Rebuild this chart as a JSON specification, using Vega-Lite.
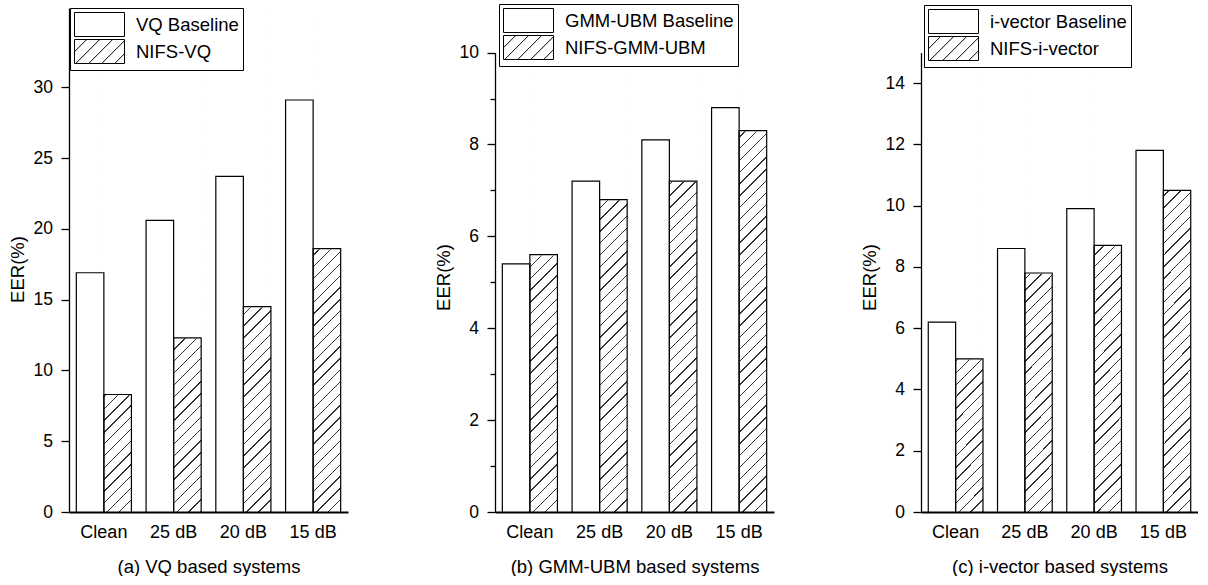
{
  "$schema": "https://vega.github.io/schema/vega-lite/v6.json",
  "background": "white",
  "padding": {"left": 8, "top": 3, "right": 0, "bottom": 0},
  "spacing": 86,
  "resolve": {
    "scale": {"x": "independent", "xOffset": "independent", "y": "independent", "shape": "independent"},
    "legend": {"shape": "independent"},
    "axis": {"x": "independent", "y": "independent"}
  },
  "params": [
    {"name": "hatch", "value": {"gradient": "linear", "x1": 0, "y1": 0, "x2": 0.05748, "y2": 1.05152, "stops": [
      {"offset": 0, "color": "#fff"},
      {"offset": 0.019556, "color": "#fff"}, {"offset": 0.019556, "color": "#333"}, {"offset": 0.022222, "color": "#333"}, {"offset": 0.022222, "color": "#fff"},
      {"offset": 0.041778, "color": "#fff"}, {"offset": 0.041778, "color": "#333"}, {"offset": 0.044444, "color": "#333"}, {"offset": 0.044444, "color": "#fff"},
      {"offset": 0.064, "color": "#fff"}, {"offset": 0.064, "color": "#333"}, {"offset": 0.066667, "color": "#333"}, {"offset": 0.066667, "color": "#fff"},
      {"offset": 0.086222, "color": "#fff"}, {"offset": 0.086222, "color": "#333"}, {"offset": 0.088889, "color": "#333"}, {"offset": 0.088889, "color": "#fff"},
      {"offset": 0.108444, "color": "#fff"}, {"offset": 0.108444, "color": "#333"}, {"offset": 0.111111, "color": "#333"}, {"offset": 0.111111, "color": "#fff"},
      {"offset": 0.130667, "color": "#fff"}, {"offset": 0.130667, "color": "#333"}, {"offset": 0.133333, "color": "#333"}, {"offset": 0.133333, "color": "#fff"},
      {"offset": 0.152889, "color": "#fff"}, {"offset": 0.152889, "color": "#333"}, {"offset": 0.155556, "color": "#333"}, {"offset": 0.155556, "color": "#fff"},
      {"offset": 0.175111, "color": "#fff"}, {"offset": 0.175111, "color": "#333"}, {"offset": 0.177778, "color": "#333"}, {"offset": 0.177778, "color": "#fff"},
      {"offset": 0.197333, "color": "#fff"}, {"offset": 0.197333, "color": "#333"}, {"offset": 0.2, "color": "#333"}, {"offset": 0.2, "color": "#fff"},
      {"offset": 0.219556, "color": "#fff"}, {"offset": 0.219556, "color": "#333"}, {"offset": 0.222222, "color": "#333"}, {"offset": 0.222222, "color": "#fff"},
      {"offset": 0.241778, "color": "#fff"}, {"offset": 0.241778, "color": "#333"}, {"offset": 0.244444, "color": "#333"}, {"offset": 0.244444, "color": "#fff"},
      {"offset": 0.264, "color": "#fff"}, {"offset": 0.264, "color": "#333"}, {"offset": 0.266667, "color": "#333"}, {"offset": 0.266667, "color": "#fff"},
      {"offset": 0.286222, "color": "#fff"}, {"offset": 0.286222, "color": "#333"}, {"offset": 0.288889, "color": "#333"}, {"offset": 0.288889, "color": "#fff"},
      {"offset": 0.308444, "color": "#fff"}, {"offset": 0.308444, "color": "#333"}, {"offset": 0.311111, "color": "#333"}, {"offset": 0.311111, "color": "#fff"},
      {"offset": 0.330667, "color": "#fff"}, {"offset": 0.330667, "color": "#333"}, {"offset": 0.333333, "color": "#333"}, {"offset": 0.333333, "color": "#fff"},
      {"offset": 0.352889, "color": "#fff"}, {"offset": 0.352889, "color": "#333"}, {"offset": 0.355556, "color": "#333"}, {"offset": 0.355556, "color": "#fff"},
      {"offset": 0.375111, "color": "#fff"}, {"offset": 0.375111, "color": "#333"}, {"offset": 0.377778, "color": "#333"}, {"offset": 0.377778, "color": "#fff"},
      {"offset": 0.397333, "color": "#fff"}, {"offset": 0.397333, "color": "#333"}, {"offset": 0.4, "color": "#333"}, {"offset": 0.4, "color": "#fff"},
      {"offset": 0.419556, "color": "#fff"}, {"offset": 0.419556, "color": "#333"}, {"offset": 0.422222, "color": "#333"}, {"offset": 0.422222, "color": "#fff"},
      {"offset": 0.441778, "color": "#fff"}, {"offset": 0.441778, "color": "#333"}, {"offset": 0.444444, "color": "#333"}, {"offset": 0.444444, "color": "#fff"},
      {"offset": 0.464, "color": "#fff"}, {"offset": 0.464, "color": "#333"}, {"offset": 0.466667, "color": "#333"}, {"offset": 0.466667, "color": "#fff"},
      {"offset": 0.486222, "color": "#fff"}, {"offset": 0.486222, "color": "#333"}, {"offset": 0.488889, "color": "#333"}, {"offset": 0.488889, "color": "#fff"},
      {"offset": 0.508444, "color": "#fff"}, {"offset": 0.508444, "color": "#333"}, {"offset": 0.511111, "color": "#333"}, {"offset": 0.511111, "color": "#fff"},
      {"offset": 0.530667, "color": "#fff"}, {"offset": 0.530667, "color": "#333"}, {"offset": 0.533333, "color": "#333"}, {"offset": 0.533333, "color": "#fff"},
      {"offset": 0.552889, "color": "#fff"}, {"offset": 0.552889, "color": "#333"}, {"offset": 0.555556, "color": "#333"}, {"offset": 0.555556, "color": "#fff"},
      {"offset": 0.575111, "color": "#fff"}, {"offset": 0.575111, "color": "#333"}, {"offset": 0.577778, "color": "#333"}, {"offset": 0.577778, "color": "#fff"},
      {"offset": 0.597333, "color": "#fff"}, {"offset": 0.597333, "color": "#333"}, {"offset": 0.6, "color": "#333"}, {"offset": 0.6, "color": "#fff"},
      {"offset": 0.619556, "color": "#fff"}, {"offset": 0.619556, "color": "#333"}, {"offset": 0.622222, "color": "#333"}, {"offset": 0.622222, "color": "#fff"},
      {"offset": 0.641778, "color": "#fff"}, {"offset": 0.641778, "color": "#333"}, {"offset": 0.644444, "color": "#333"}, {"offset": 0.644444, "color": "#fff"},
      {"offset": 0.664, "color": "#fff"}, {"offset": 0.664, "color": "#333"}, {"offset": 0.666667, "color": "#333"}, {"offset": 0.666667, "color": "#fff"},
      {"offset": 0.686222, "color": "#fff"}, {"offset": 0.686222, "color": "#333"}, {"offset": 0.688889, "color": "#333"}, {"offset": 0.688889, "color": "#fff"},
      {"offset": 0.708444, "color": "#fff"}, {"offset": 0.708444, "color": "#333"}, {"offset": 0.711111, "color": "#333"}, {"offset": 0.711111, "color": "#fff"},
      {"offset": 0.730667, "color": "#fff"}, {"offset": 0.730667, "color": "#333"}, {"offset": 0.733333, "color": "#333"}, {"offset": 0.733333, "color": "#fff"},
      {"offset": 0.752889, "color": "#fff"}, {"offset": 0.752889, "color": "#333"}, {"offset": 0.755556, "color": "#333"}, {"offset": 0.755556, "color": "#fff"},
      {"offset": 0.775111, "color": "#fff"}, {"offset": 0.775111, "color": "#333"}, {"offset": 0.777778, "color": "#333"}, {"offset": 0.777778, "color": "#fff"},
      {"offset": 0.797333, "color": "#fff"}, {"offset": 0.797333, "color": "#333"}, {"offset": 0.8, "color": "#333"}, {"offset": 0.8, "color": "#fff"},
      {"offset": 0.819556, "color": "#fff"}, {"offset": 0.819556, "color": "#333"}, {"offset": 0.822222, "color": "#333"}, {"offset": 0.822222, "color": "#fff"},
      {"offset": 0.841778, "color": "#fff"}, {"offset": 0.841778, "color": "#333"}, {"offset": 0.844444, "color": "#333"}, {"offset": 0.844444, "color": "#fff"},
      {"offset": 0.864, "color": "#fff"}, {"offset": 0.864, "color": "#333"}, {"offset": 0.866667, "color": "#333"}, {"offset": 0.866667, "color": "#fff"},
      {"offset": 0.886222, "color": "#fff"}, {"offset": 0.886222, "color": "#333"}, {"offset": 0.888889, "color": "#333"}, {"offset": 0.888889, "color": "#fff"},
      {"offset": 0.908444, "color": "#fff"}, {"offset": 0.908444, "color": "#333"}, {"offset": 0.911111, "color": "#333"}, {"offset": 0.911111, "color": "#fff"},
      {"offset": 0.930667, "color": "#fff"}, {"offset": 0.930667, "color": "#333"}, {"offset": 0.933333, "color": "#333"}, {"offset": 0.933333, "color": "#fff"},
      {"offset": 0.952889, "color": "#fff"}, {"offset": 0.952889, "color": "#333"}, {"offset": 0.955556, "color": "#333"}, {"offset": 0.955556, "color": "#fff"},
      {"offset": 0.975111, "color": "#fff"}, {"offset": 0.975111, "color": "#333"}, {"offset": 0.977778, "color": "#333"}, {"offset": 0.977778, "color": "#fff"},
      {"offset": 0.997333, "color": "#fff"}, {"offset": 0.997333, "color": "#333"}, {"offset": 1, "color": "#333"}
    ]}}
  ],
  "config": {
    "font": "Liberation Sans",
    "view": {"stroke": null},
    "axis": {"labelColor": "black", "titleColor": "black", "titleFontWeight": "normal", "grid": false, "labelFont": "Liberation Sans", "titleFont": "Liberation Sans"},
    "legend": {"labelFontSize": 18.5, "labelColor": "black", "labelFont": "Liberation Sans", "symbolSize": 576, "labelOffset": 37, "padding": 4, "rowPadding": -6, "strokeColor": "black", "fillColor": "white", "labelLimit": 400, "symbolStrokeWidth": 1, "symbolStrokeColor": "black", "symbolOpacity": 1}
  },
  "hconcat": [
    {
      "width": 279, "height": 504,
      "data": {"values": [
        {"cond": "Clean", "series": "VQ Baseline", "EER": 16.9},
        {"cond": "Clean", "series": "NIFS-VQ", "EER": 8.3},
        {"cond": "25 dB", "series": "VQ Baseline", "EER": 20.6},
        {"cond": "25 dB", "series": "NIFS-VQ", "EER": 12.3},
        {"cond": "20 dB", "series": "VQ Baseline", "EER": 23.7},
        {"cond": "20 dB", "series": "NIFS-VQ", "EER": 14.5},
        {"cond": "15 dB", "series": "VQ Baseline", "EER": 29.1},
        {"cond": "15 dB", "series": "NIFS-VQ", "EER": 18.6}
      ]},
      "encoding": {
        "x": {"field": "cond", "type": "nominal", "scale": {"domain": ["Clean", "25 dB", "20 dB", "15 dB"], "paddingInner": 0.21, "paddingOuter": 0.105},
              "axis": {"title": "(a) VQ based systems", "labelAngle": 0, "ticks": false, "tickSize": 0, "domainColor": "black", "domainWidth": 2, "labelFontSize": 18, "labelPadding": 11, "titleFontSize": 18.5, "titlePadding": 16}},
        "xOffset": {"field": "series", "type": "nominal", "scale": {"domain": ["VQ Baseline", "NIFS-VQ"]}}
      },
      "layer": [
        {"transform": [{"filter": "indexof(datum.series, 'NIFS') == 0"}],
         "mark": {"type": "bar", "fill": {"expr": "hatch"}, "strokeWidth": 0},
         "encoding": {"y": {"datum": 35.6, "type": "quantitative"}, "y2": {"datum": 0}}},
        {"transform": [{"filter": "indexof(datum.series, 'NIFS') == 0"}],
         "mark": {"type": "bar", "fill": "white", "stroke": "white", "strokeWidth": 1.5},
         "encoding": {"y": {"field": "EER", "type": "quantitative"}, "y2": {"datum": 35.6}}},
        {"transform": [{"filter": "indexof(datum.series, 'NIFS') < 0"}],
         "mark": {"type": "bar", "fill": "white", "stroke": "black", "strokeWidth": 1.2},
         "encoding": {"y": {"field": "EER", "type": "quantitative", "scale": {"domain": [0, 35.6], "nice": false},
           "axis": {"title": "EER(%)", "values": [0, 2.5, 5, 7.5, 10, 12.5, 15, 17.5, 20, 22.5, 25, 27.5, 30, 32.5], "format": "d",
             "labelExpr": "datum.value % 5 === 0 ? datum.label : ''",
             "tickSize": {"condition": {"test": "datum.value % 5 === 0", "value": 8}, "value": 5},
             "domainColor": "black", "domainWidth": 1.3, "tickColor": "black", "tickWidth": 1.3, "labelFontSize": 17.5, "labelPadding": 8.5,
             "titleFontSize": 18.5, "titleX": -42, "titleY": 261}}}},
        {"transform": [{"filter": "indexof(datum.series, 'NIFS') == 0"}],
         "mark": {"type": "bar", "fill": "transparent", "stroke": "black", "strokeWidth": 1.2},
         "encoding": {"y": {"field": "EER", "type": "quantitative"}}},
        {"transform": [{"filter": "false"}],
         "mark": {"type": "point", "filled": false, "color": "black", "strokeWidth": 1},
         "encoding": {"y": {"field": "EER", "type": "quantitative"},
           "shape": {"field": "series", "type": "nominal",
             "scale": {"domain": ["VQ Baseline", "NIFS-VQ"], "range": ["M-1,-1L3.1667,-1L3.1667,1L-1,1Z", "M-1,-1L3.1667,-1L3.1667,1L-1,1Z M-1,0.0167L0.0167,-1 M-0.9,1L1.1,-1 M0.1833,1L2.1833,-1 M1.2667,1L3.1667,-0.9 M2.35,1L3.1667,0.1833"]},
             "legend": {"title": null, "orient": "none", "legendX": 1, "legendY": 0}}}}
      ]
    },
    {
      "width": 279, "height": 504,
      "data": {"values": [
        {"cond": "Clean", "series": "GMM-UBM Baseline", "EER": 5.4},
        {"cond": "Clean", "series": "NIFS-GMM-UBM", "EER": 5.6},
        {"cond": "25 dB", "series": "GMM-UBM Baseline", "EER": 7.2},
        {"cond": "25 dB", "series": "NIFS-GMM-UBM", "EER": 6.8},
        {"cond": "20 dB", "series": "GMM-UBM Baseline", "EER": 8.1},
        {"cond": "20 dB", "series": "NIFS-GMM-UBM", "EER": 7.2},
        {"cond": "15 dB", "series": "GMM-UBM Baseline", "EER": 8.8},
        {"cond": "15 dB", "series": "NIFS-GMM-UBM", "EER": 8.3}
      ]},
      "encoding": {
        "x": {"field": "cond", "type": "nominal", "scale": {"domain": ["Clean", "25 dB", "20 dB", "15 dB"], "paddingInner": 0.21, "paddingOuter": 0.105},
              "axis": {"title": "(b) GMM-UBM based systems", "labelAngle": 0, "ticks": false, "tickSize": 0, "domainColor": "black", "domainWidth": 2, "labelFontSize": 18, "labelPadding": 11, "titleFontSize": 18.5, "titlePadding": 16}},
        "xOffset": {"field": "series", "type": "nominal", "scale": {"domain": ["GMM-UBM Baseline", "NIFS-GMM-UBM"]}}
      },
      "layer": [
        {"transform": [{"filter": "indexof(datum.series, 'NIFS') == 0"}],
         "mark": {"type": "bar", "fill": {"expr": "hatch"}, "strokeWidth": 0},
         "encoding": {"y": {"datum": 10.97, "type": "quantitative"}, "y2": {"datum": 0}}},
        {"transform": [{"filter": "indexof(datum.series, 'NIFS') == 0"}],
         "mark": {"type": "bar", "fill": "white", "stroke": "white", "strokeWidth": 1.5},
         "encoding": {"y": {"field": "EER", "type": "quantitative"}, "y2": {"datum": 10.97}}},
        {"transform": [{"filter": "indexof(datum.series, 'NIFS') < 0"}],
         "mark": {"type": "bar", "fill": "white", "stroke": "black", "strokeWidth": 1.2},
         "encoding": {"y": {"field": "EER", "type": "quantitative", "scale": {"domain": [0, 10.97], "nice": false},
           "axis": {"title": "EER(%)", "values": [0, 1, 2, 3, 4, 5, 6, 7, 8, 9, 10], "format": "d",
             "labelExpr": "datum.value % 2 === 0 ? datum.label : ''",
             "tickSize": {"condition": {"test": "datum.value % 2 === 0", "value": 8}, "value": 5},
             "domainColor": "black", "domainWidth": 1.3, "domainDash": [459.4, 3000], "tickColor": "black", "tickWidth": 1.3, "labelFontSize": 17.5, "labelPadding": 8.5,
             "titleFontSize": 18.5, "titleX": -42, "titleY": 269}}}},
        {"transform": [{"filter": "indexof(datum.series, 'NIFS') == 0"}],
         "mark": {"type": "bar", "fill": "transparent", "stroke": "black", "strokeWidth": 1.2},
         "encoding": {"y": {"field": "EER", "type": "quantitative"}}},
        {"transform": [{"filter": "false"}],
         "mark": {"type": "point", "filled": false, "color": "black", "strokeWidth": 1},
         "encoding": {"y": {"field": "EER", "type": "quantitative"},
           "shape": {"field": "series", "type": "nominal",
             "scale": {"domain": ["GMM-UBM Baseline", "NIFS-GMM-UBM"], "range": ["M-1,-1L3.1667,-1L3.1667,1L-1,1Z", "M-1,-1L3.1667,-1L3.1667,1L-1,1Z M-1,0.0167L0.0167,-1 M-0.9,1L1.1,-1 M0.1833,1L2.1833,-1 M1.2667,1L3.1667,-0.9 M2.35,1L3.1667,0.1833"]},
             "legend": {"title": null, "orient": "none", "legendX": 4, "legendY": -4}}}}
      ]
    },
    {
      "width": 277, "height": 504,
      "data": {"values": [
        {"cond": "Clean", "series": "i-vector Baseline", "EER": 6.2},
        {"cond": "Clean", "series": "NIFS-i-vector", "EER": 5.0},
        {"cond": "25 dB", "series": "i-vector Baseline", "EER": 8.6},
        {"cond": "25 dB", "series": "NIFS-i-vector", "EER": 7.8},
        {"cond": "20 dB", "series": "i-vector Baseline", "EER": 9.9},
        {"cond": "20 dB", "series": "NIFS-i-vector", "EER": 8.7},
        {"cond": "15 dB", "series": "i-vector Baseline", "EER": 11.8},
        {"cond": "15 dB", "series": "NIFS-i-vector", "EER": 10.5}
      ]},
      "encoding": {
        "x": {"field": "cond", "type": "nominal", "scale": {"domain": ["Clean", "25 dB", "20 dB", "15 dB"], "paddingInner": 0.21, "paddingOuter": 0.105},
              "axis": {"title": "(c) i-vector based systems", "labelAngle": 0, "ticks": false, "tickSize": 0, "domainColor": "black", "domainWidth": 2, "labelFontSize": 18, "labelPadding": 11, "titleFontSize": 18.5, "titlePadding": 16}},
        "xOffset": {"field": "series", "type": "nominal", "scale": {"domain": ["i-vector Baseline", "NIFS-i-vector"]}}
      },
      "layer": [
        {"transform": [{"filter": "indexof(datum.series, 'NIFS') == 0"}],
         "mark": {"type": "bar", "fill": {"expr": "hatch"}, "strokeWidth": 0},
         "encoding": {"y": {"datum": 16.45, "type": "quantitative"}, "y2": {"datum": 0}}},
        {"transform": [{"filter": "indexof(datum.series, 'NIFS') == 0"}],
         "mark": {"type": "bar", "fill": "white", "stroke": "white", "strokeWidth": 1.5},
         "encoding": {"y": {"field": "EER", "type": "quantitative"}, "y2": {"datum": 16.45}}},
        {"transform": [{"filter": "indexof(datum.series, 'NIFS') < 0"}],
         "mark": {"type": "bar", "fill": "white", "stroke": "black", "strokeWidth": 1.2},
         "encoding": {"y": {"field": "EER", "type": "quantitative", "scale": {"domain": [0, 16.45], "nice": false},
           "axis": {"title": "EER(%)", "values": [0, 1, 2, 3, 4, 5, 6, 7, 8, 9, 10, 11, 12, 13, 14, 15], "format": "d",
             "labelExpr": "datum.value % 2 === 0 ? datum.label : ''",
             "tickSize": {"condition": {"test": "datum.value % 2 === 0", "value": 8}, "value": 5},
             "domainColor": "black", "domainWidth": 1.3, "domainDash": [459.6, 3000], "tickColor": "black", "tickWidth": 1.3, "labelFontSize": 17.5, "labelPadding": 8.5,
             "titleFontSize": 18.5, "titleX": -42, "titleY": 269}}}},
        {"transform": [{"filter": "indexof(datum.series, 'NIFS') == 0"}],
         "mark": {"type": "bar", "fill": "transparent", "stroke": "black", "strokeWidth": 1.2},
         "encoding": {"y": {"field": "EER", "type": "quantitative"}}},
        {"transform": [{"filter": "false"}],
         "mark": {"type": "point", "filled": false, "color": "black", "strokeWidth": 1},
         "encoding": {"y": {"field": "EER", "type": "quantitative"},
           "shape": {"field": "series", "type": "nominal",
             "scale": {"domain": ["i-vector Baseline", "NIFS-i-vector"], "range": ["M-1,-1L3.1667,-1L3.1667,1L-1,1Z", "M-1,-1L3.1667,-1L3.1667,1L-1,1Z M-1,0.0167L0.0167,-1 M-0.9,1L1.1,-1 M0.1833,1L2.1833,-1 M1.2667,1L3.1667,-0.9 M2.35,1L3.1667,0.1833"]},
             "legend": {"title": null, "orient": "none", "legendX": 3, "legendY": -3}}}}
      ]
    }
  ]
}
